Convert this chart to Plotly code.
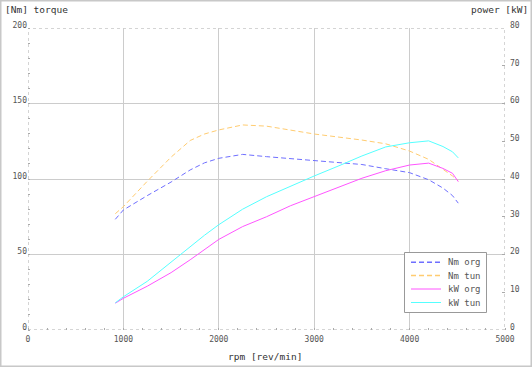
import plotly.graph_objects as go

rpm = [915, 1000, 1250, 1500, 1700, 1850, 2000, 2250, 2500, 2750, 3000,
       3250, 3500, 3750, 4000, 4200, 4350, 4450, 4510]
nm_org = [73.3, 79.5, 89.0, 98.0, 106.0, 110.7, 113.7, 116.3, 114.8, 113.5, 111.9,
          111.0, 109.6, 106.8, 104.2, 99.5, 94.0, 89.0, 84.0]
nm_tun = [77.0, 81.7, 98.5, 114.5, 125.5, 129.8, 132.5, 135.8, 135.0, 132.2, 129.8,
          127.8, 125.8, 123.3, 118.5, 113.0, 106.5, 102.0, 98.7]
kw_org = [7.1, 8.4, 11.6, 15.2, 18.6, 21.4, 24.0, 27.4, 30.0, 32.9, 35.3,
          37.9, 40.2, 42.2, 43.7, 44.2, 42.8, 41.5, 39.3]
kw_tun = [7.2, 8.8, 12.9, 18.0, 22.2, 25.1, 27.9, 32.0, 35.3, 38.1, 40.8,
          43.4, 46.1, 48.5, 49.6, 50.1, 48.6, 47.2, 45.6]

series_names = ["Nm org", "Nm tun", "kW org", "kW tun"]
series_colors = ["#6f6fff", "#ffcc70", "#ff55ff", "#55ffff"]
series_dash = ["5px,3px", "5px,3px", "solid", "solid"]

x_ticks = [0, 1000, 2000, 3000, 4000, 5000]
y_ticks = [0, 50, 100, 150, 200]
y2_ticks = [0, 10, 20, 30, 40, 50, 60, 70, 80]

MONO = "DejaVu Sans Mono"
L, R, T, B = 28, 27, 28, 37
W, H = 532, 367
PW, PH = W - L - R, H - T - B


def px(xp):
    return (xp - L) / PW


def py(yp):
    return (H - B - yp) / PH


fig = go.Figure()
data = [(nm_org, "y"), (nm_tun, "y"), (kw_org, "y2"), (kw_tun, "y2")]
for (vals, ax), name, col, dash in zip(data, series_names, series_colors, series_dash):
    fig.add_trace(go.Scatter(x=rpm, y=vals, name=name, mode="lines", yaxis=ax,
                             line=dict(color=col, width=1, dash=dash)))

tickfont = dict(family=MONO, size=8, color="#555555")
fig.update_layout(
    width=W, height=H,
    margin=dict(l=L, r=R, t=T, b=B),
    paper_bgcolor="white", plot_bgcolor="white",
    font=dict(family=MONO, size=9, color="#333333"),
    showlegend=False,
    xaxis=dict(range=[0, 5000], tickvals=x_ticks, showgrid=True, gridcolor="#cccccc",
               gridwidth=1, zeroline=False, showline=False, ticks="", tickfont=tickfont,
               ticklabelstandoff=3,
               minor=dict(dtick=200, ticks="inside", ticklen=2, tickcolor="#aaaaaa",
                          showgrid=False)),
    yaxis=dict(range=[0, 200], tickvals=y_ticks, showgrid=True, gridcolor="#cccccc",
               gridwidth=1, zeroline=False, showline=False, ticks="", tickfont=tickfont,
               ticklabelshift=-3,
               minor=dict(dtick=10, ticks="inside", ticklen=2, tickcolor="#aaaaaa",
                          showgrid=False)),
    yaxis2=dict(range=[0, 80], tickvals=y2_ticks, overlaying="y", side="right",
                showgrid=False, zeroline=False, showline=False, ticks="inside",
                ticklen=3, tickcolor="#aaaaaa", tickfont=tickfont,
                ticklabelshift=-3, ticklabelstandoff=4),
)

# dotted frame around plot area
fig.add_shape(type="rect", xref="x", yref="y", x0=0, x1=5000, y0=0, y1=200,
              line=dict(color="#aaaaaa", width=1, dash="dot"), layer="below")
# outer light border around the whole picture
fig.add_shape(type="rect", xref="paper", yref="paper",
              x0=px(0.75), x1=px(531.25), y0=py(366.25), y1=py(0.75),
              line=dict(color="#c8c8c8", width=1.5))

# legend (drawn manually to match the compact reference box)
fig.add_shape(type="rect", xref="paper", yref="paper",
              x0=px(404.5), x1=px(486.5), y0=py(312.5), y1=py(252.5),
              line=dict(color="#999999", width=1), fillcolor="white", layer="above")
leg_rows = [262.3, 275.5, 289.0, 302.5]
for yy, name, col, dash in zip(leg_rows, series_names, series_colors, series_dash):
    fig.add_shape(type="line", xref="paper", yref="paper",
                  x0=px(411), x1=px(441), y0=py(yy), y1=py(yy),
                  line=dict(color=col, width=1 if dash == "solid" else 1.5, dash=dash))
    fig.add_annotation(text=name, xref="paper", yref="paper", x=px(483), y=py(yy),
                       xanchor="right", yanchor="middle", showarrow=False,
                       font=dict(family=MONO, size=9, color="#555555"))

fig.add_annotation(text="[Nm] torque", xref="paper", yref="paper",
                   x=px(3), y=py(10), xanchor="left", yanchor="middle",
                   showarrow=False, font=dict(family=MONO, size=9.5, color="#333333"))
fig.add_annotation(text="power [kW]", xref="paper", yref="paper",
                   x=px(530), y=py(10), xanchor="right", yanchor="middle",
                   showarrow=False, font=dict(family=MONO, size=9.5, color="#333333"))
fig.add_annotation(text="rpm [rev/min]", xref="paper", yref="paper",
                   x=px(265), y=py(356), xanchor="center", yanchor="middle",
                   showarrow=False, font=dict(family=MONO, size=9.5, color="#333333"))

fig.write_html("out.html", config={"displayModeBar": False},
               post_script="document.body.style.margin='0';")
